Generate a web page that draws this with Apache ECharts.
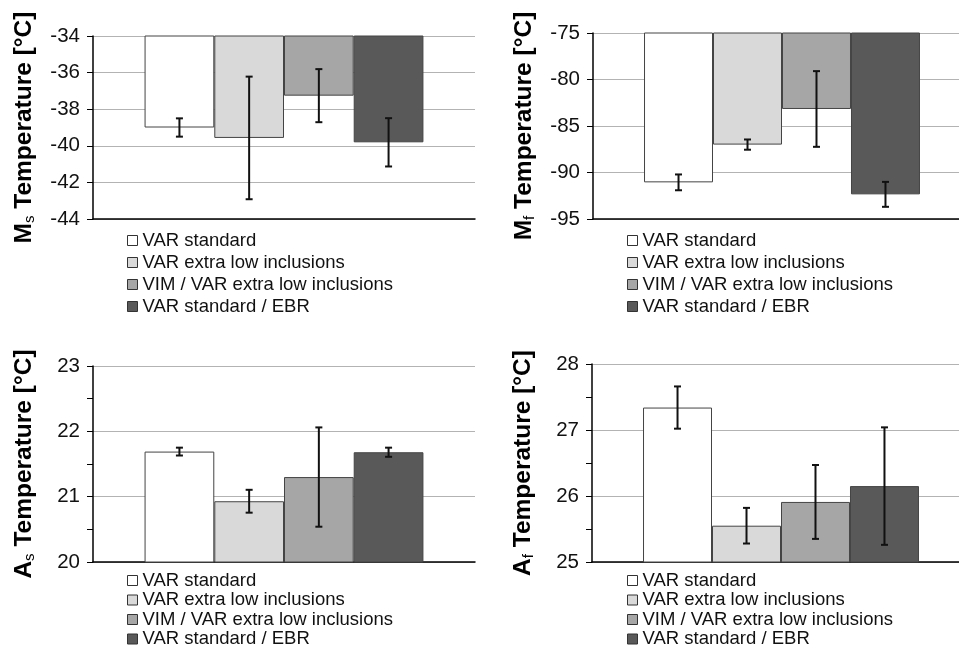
<!DOCTYPE html>
<html><head><meta charset="utf-8">
<script src="https://cdn.jsdelivr.net/npm/echarts@6/dist/echarts.min.js"></script>
<style>html,body{margin:0;padding:0;background:#fff}#c{width:959px;height:648px}</style>
</head><body><div id="c"></div>
<script>
// ---- data ----
const seriesNames = ['VAR standard', 'VAR extra low inclusions', 'VIM / VAR extra low inclusions', 'VAR standard / EBR'];
const barColors = ['#ffffff', '#d9d9d9', '#a6a6a6', '#595959'];

const msMean = [-39.0, -39.57, -37.26, -39.81];
const msErr  = [0.50, 3.35, 1.45, 1.32];
const mfMean = [-91.06, -87.0, -83.17, -92.35];
const mfErr  = [0.85, 0.55, 4.07, 1.34];
const asMean = [21.69, 20.93, 21.30, 21.68];
const asErr  = [0.06, 0.175, 0.76, 0.07];
const afMean = [27.34, 25.55, 25.91, 26.15];
const afErr  = [0.32, 0.27, 0.56, 0.89];

// axis ranges [min, max, interval]
const msAxis = [-44, -34, 2];
const mfAxis = [-95, -75, 5];
const asAxis = [20, 23, 1];
const afAxis = [25, 28, 1];

const msName = ['M', 's'];
const mfName = ['M', 'f'];
const asName = ['A', 's'];
const afName = ['A', 'f'];

// ---- layout ----
const FONT = 'Liberation Sans, Arial, sans-serif';
const CAT_GAP = 0.27;
const panels = [
  {mean: msMean, err: msErr, axis: msAxis, name: msName, grid: {left: 93, top: 36, width: 382, height: 183}, minor: false, legend: {left: 127, top: 231, gap: 3}},
  {mean: mfMean, err: mfErr, axis: mfAxis, name: mfName, grid: {left: 593, top: 33, width: 378, height: 186}, minor: false, legend: {left: 627, top: 231, gap: 3}},
  {mean: asMean, err: asErr, axis: asAxis, name: asName, grid: {left: 93, top: 366, width: 382, height: 196}, minor: true, legend: {left: 127, top: 571, gap: 0.5}},
  {mean: afMean, err: afErr, axis: afAxis, name: afName, grid: {left: 592, top: 364, width: 378, height: 198}, minor: true, legend: {left: 627, top: 571, gap: 0.5}}
];

function errRender(params, api) {
  const i = api.value(3);
  const mean = api.value(1);
  const err = api.value(2);
  const band = api.size([1, 0])[0];
  const bw = band * (1 - CAT_GAP) / 4;
  const cx = api.coord([0, mean])[0] + (i - 1.5) * bw;
  const yt = api.coord([0, mean + err])[1];
  const yb = api.coord([0, mean - err])[1];
  const cap = 3.5;
  const st = {stroke: '#111', lineWidth: 2};
  return {type: 'group', children: [
    {type: 'line', shape: {x1: cx, y1: yt, x2: cx, y2: yb}, style: st},
    {type: 'line', shape: {x1: cx - cap, y1: yt, x2: cx + cap, y2: yt}, style: st},
    {type: 'line', shape: {x1: cx - cap, y1: yb, x2: cx + cap, y2: yb}, style: st}
  ]};
}

const option = {
  backgroundColor: '#fff',
  animation: false,
  grid: [], xAxis: [], yAxis: [], series: [], legend: []
};

panels.forEach((p, k) => {
  option.grid.push(Object.assign({containLabel: false, outerBoundsMode: 'none'}, p.grid));
  option.xAxis.push({
    type: 'category', gridIndex: k, data: ['g'],
    axisLabel: {show: false}, axisTick: {show: false},
    axisLine: {onZero: false, lineStyle: {color: '#000', width: 1.5}},
    splitLine: {show: false}
  });
  option.yAxis.push({
    type: 'value', gridIndex: k, min: p.axis[0], max: p.axis[1], interval: p.axis[2],
    name: '{m|' + p.name[0] + '}{s|' + p.name[1] + '}{m| Temperature [°C]}',
    nameLocation: 'middle', nameRotate: 90, nameGap: 56,
    nameTextStyle: {rich: {
      m: {fontSize: 24.5, fontWeight: 'bold', fontFamily: FONT, color: '#000'},
      s: {fontSize: 15, fontFamily: FONT, color: '#000', verticalAlign: 'bottom'}
    }},
    axisLine: {show: true, lineStyle: {color: '#000', width: 1.5}},
    axisTick: {show: true, length: 6, lineStyle: {color: '#000', width: 1}},
    minorTick: {show: p.minor, splitNumber: 2, length: 6, lineStyle: {color: '#000', width: 1}},
    axisLabel: {fontSize: 20.5, fontFamily: FONT, color: '#111', margin: 13},
    splitLine: {show: true, lineStyle: {color: '#b3b3b3', width: 1.2}}
  });
  seriesNames.forEach((nm, i) => {
    option.series.push({
      type: 'bar', name: nm, xAxisIndex: k, yAxisIndex: k,
      data: [p.mean[i]], barGap: 0, barCategoryGap: (CAT_GAP * 100) + '%',
      itemStyle: {color: barColors[i], borderColor: '#444', borderWidth: 1},
      emphasis: {disabled: true}
    });
  });
  option.series.push({
    type: 'custom', xAxisIndex: k, yAxisIndex: k, z: 5,
    renderItem: errRender,
    encode: {x: 0, y: 1},
    data: p.mean.map((m, i) => [0, m, p.err[i], i])
  });
  option.legend.push({
    orient: 'vertical', left: p.legend.left, top: p.legend.top, height: 120,
    itemWidth: 10, itemHeight: 10, itemGap: p.legend.gap, icon: 'rect',
    selectedMode: false, data: seriesNames, padding: 0,
    itemStyle: {borderColor: '#333', borderWidth: 1},
    textStyle: {fontSize: 18.5, fontFamily: FONT, color: '#111'}
  });
});

const chart = echarts.init(document.getElementById('c'), null, {renderer: 'canvas'});
chart.setOption(option);
</script>
</body></html>
